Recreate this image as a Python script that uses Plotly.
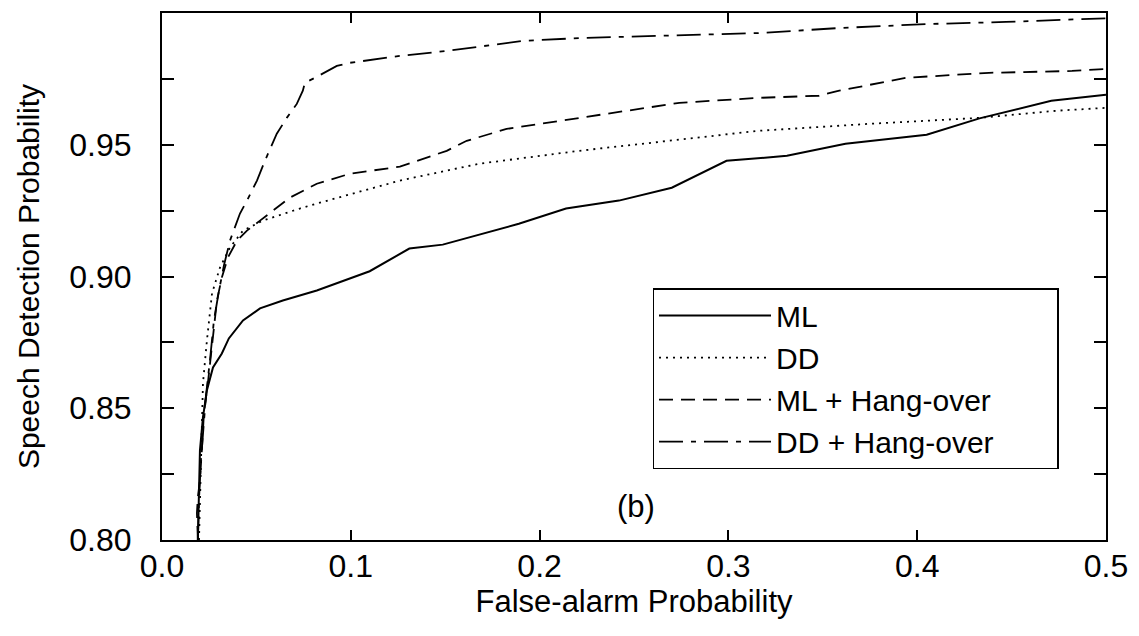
import plotly.graph_objects as go

# ---- data ----
ml_x = [0.019, 0.0201, 0.0217, 0.0238, 0.027, 0.0317, 0.0354, 0.0429, 0.0519, 0.064, 0.082, 0.0995,
        0.110, 0.131, 0.1487, 0.189, 0.214, 0.242, 0.270, 0.299, 0.316, 0.331, 0.362, 0.405, 0.433, 0.471, 0.5]
ml_y = [0.800, 0.834, 0.8466, 0.8568, 0.8655, 0.8708, 0.8765, 0.8833, 0.8879, 0.8909, 0.8947, 0.8992,
        0.9020, 0.9106, 0.9121, 0.920, 0.9258, 0.9288, 0.9337, 0.9439, 0.945, 0.9458, 0.9504, 0.9538, 0.960, 0.9667, 0.969]

dd_x = [0.0196, 0.0206, 0.0217, 0.0238, 0.0265, 0.0307, 0.036, 0.0429, 0.0534, 0.073, 0.082, 0.126,
        0.168, 0.221, 0.270, 0.316, 0.376, 0.433, 0.4735, 0.5]
dd_y = [0.800, 0.834, 0.8595, 0.8758, 0.8936, 0.9034, 0.911, 0.9174, 0.9212, 0.9258, 0.9277, 0.9364,
        0.9428, 0.9477, 0.9515, 0.9553, 0.958, 0.9602, 0.9629, 0.964]

mlh_x = [0.019, 0.0185, 0.019, 0.0201, 0.0212, 0.0222, 0.0243, 0.0265, 0.0291, 0.0317, 0.0349, 0.0397,
         0.045, 0.0519, 0.0608, 0.0677, 0.082, 0.0995, 0.126, 0.1508, 0.1614, 0.1825, 0.2212, 0.274,
         0.316, 0.348, 0.3587, 0.394, 0.438, 0.482, 0.5]
mlh_y = [0.800, 0.8102, 0.8163, 0.8227, 0.8352, 0.8481, 0.8595, 0.8746, 0.8909, 0.8996, 0.9072, 0.9136,
         0.9174, 0.9212, 0.9261, 0.9299, 0.9352, 0.939, 0.9417, 0.9477, 0.9515, 0.956, 0.9602, 0.9659,
         0.9678, 0.9686, 0.9705, 0.9754, 0.9773, 0.978, 0.9788]

ddh_x = [0.019, 0.0196, 0.0206, 0.0217, 0.0233, 0.0254, 0.0275, 0.0302, 0.0328, 0.036, 0.0413, 0.045,
         0.0503, 0.0545, 0.0608, 0.0661, 0.0714, 0.0746, 0.0757, 0.082, 0.0926, 0.0995, 0.126, 0.1508,
         0.191, 0.2212, 0.267, 0.316, 0.3587, 0.405, 0.447, 0.482, 0.5]
ddh_y = [0.800, 0.8152, 0.830, 0.8417, 0.8549, 0.8682, 0.8833, 0.8947, 0.9042, 0.9136, 0.9239, 0.9288,
         0.9364, 0.9439, 0.9542, 0.9602, 0.9655, 0.9705, 0.9735, 0.9758, 0.9799, 0.9811, 0.9837, 0.9856,
         0.9894, 0.9905, 0.9913, 0.9924, 0.9943, 0.9958, 0.9966, 0.9977, 0.998]

names = ["ML", "DD", "ML + Hang-over", "DD + Hang-over"]

x_tickvals = [0.0, 0.1, 0.2, 0.3, 0.4, 0.5]
x_ticktext = ["0.0", "0.1", "0.2", "0.3", "0.4", "0.5"]
y_tickvals = [0.80, 0.825, 0.85, 0.875, 0.90, 0.925, 0.95, 0.975]
y_ticktext = ["0.80", "", "0.85", "", "0.90", "", "0.95", ""]

FONT = "Liberation Sans, Arial, Helvetica, sans-serif"
PAD = "\u00a0" * 7  # widens the legend box like the reference

fig = go.Figure()
styles = [
    dict(color="black", width=2, dash="solid"),
    dict(color="black", width=1.8, dash="2px,5px"),
    dict(color="black", width=1.8, dash="14px,8px"),
    dict(color="black", width=1.8, dash="24px,8px,5px,8px"),
]
for xs, ys, nm, st in zip([ml_x, dd_x, mlh_x, ddh_x], [ml_y, dd_y, mlh_y, ddh_y], names, styles):
    fig.add_trace(go.Scatter(x=xs, y=ys, mode="lines", name=nm + PAD, line=st))

fig.add_annotation(x=0.251, y=0.8129, text="(b)", showarrow=False,
                   font=dict(family=FONT, size=31, color="black"))

axis_common = dict(showline=True, linecolor="black", linewidth=2, mirror="ticks",
                   ticks="inside", tickcolor="black", tickwidth=1.5, showgrid=False,
                   zeroline=False, tickfont=dict(family=FONT, size=32, color="black"))

fig.update_xaxes(range=[0, 0.5], tickvals=x_tickvals, ticktext=x_ticktext, ticklen=10,
                 ticklabelstandoff=-3,
                 title=dict(text="False-alarm Probability", font=dict(family=FONT, size=31, color="black"),
                            standoff=3),
                 **axis_common)
fig.update_yaxes(range=[0.8, 1.0], tickvals=y_tickvals, ticktext=y_ticktext, ticklen=12,
                 ticklabelstandoff=22,
                 title=dict(text="Speech Detection Probability", font=dict(family=FONT, size=30, color="black"),
                            standoff=21),
                 **axis_common)

fig.update_layout(
    width=1139, height=636,
    margin=dict(l=162, r=32, t=11, b=96),
    plot_bgcolor="white", paper_bgcolor="white",
    font=dict(family=FONT, color="black"),
    legend=dict(x=0.5196, y=0.478, xanchor="left", yanchor="top",
                bordercolor="black", borderwidth=1.5, bgcolor="white",
                itemwidth=112, font=dict(family=FONT, size=30, color="black"),
                tracegroupgap=0),
    showlegend=True,
)

fig.write_html("out.html", config={"displayModeBar": False},
               post_script="document.body.style.margin='0px';")
